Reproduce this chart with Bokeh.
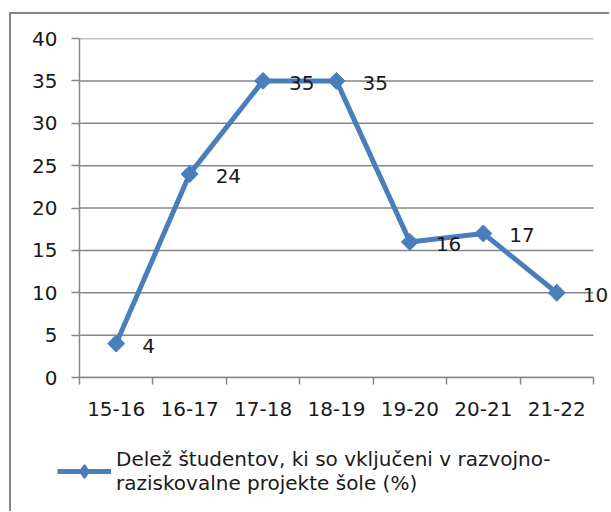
import math
from bokeh.plotting import figure
from bokeh.layouts import column
from bokeh.models import (ColumnDataSource, FixedTicker, Range1d, Legend, LegendItem, LabelSet)
from bokeh.core.properties import value
from bokeh.embed import file_html
from bokeh.resources import INLINE

categories = ["15-16", "16-17", "17-18", "18-19", "19-20", "20-21", "21-22"]
values = [4, 24, 35, 35, 16, 17, 10]
y_ticks = [0, 5, 10, 15, 20, 25, 30, 35, 40]
series_name = "Delež študentov, ki so vključeni v razvojno-\nraziskovalne projekte šole (%)"

FONT = "DejaVu Sans"
BLUE = "#4A7EBB"
GRAY = "#868686"
TXT = "#1a1a1a"

n = len(categories)
xs = [i + 0.5 for i in range(n)]
src = ColumnDataSource(dict(x=xs, y=values, lab=[str(v) for v in values]))

FW = 530
p = figure(output_backend="svg", toolbar_location=None,
           x_range=Range1d(0, n * FW / 512), y_range=Range1d(0, 40),
           min_border_left=68, min_border_top=24, min_border_right=0, min_border_bottom=61,
           frame_width=FW, frame_height=337)
p.margin = (12, 0, 0, 9)
p.styles = {"border-top": f"2px solid {GRAY}", "border-left": f"2px solid {GRAY}"}
p.outline_line_color = None
p.background_fill_color = "white"
p.border_fill_color = "white"

# x axis
p.xaxis.ticker = FixedTicker(ticks=xs, minor_ticks=list(range(n + 1)))
p.xaxis.bounds = (0, n)
p.xaxis.major_label_overrides = {x: c for x, c in zip(xs, categories)}
p.xaxis.major_tick_out = 0
p.xaxis.major_tick_in = 0
p.xaxis.minor_tick_out = 7
p.xaxis.minor_tick_in = 0
p.xaxis.minor_tick_line_color = GRAY
p.xaxis.minor_tick_line_width = 1.5
p.xaxis.axis_line_color = GRAY
p.xaxis.axis_line_width = 1.5
p.xaxis.major_label_standoff = 17
p.xaxis.major_label_text_font = FONT
p.xaxis.major_label_text_font_size = "20px"
p.xaxis.major_label_text_color = TXT
p.xgrid.visible = False

# y axis
p.yaxis.ticker = FixedTicker(ticks=y_ticks, minor_ticks=[])
p.yaxis.major_tick_out = 8
p.yaxis.major_tick_in = 0
p.yaxis.major_tick_line_color = GRAY
p.yaxis.major_tick_line_width = 1.5
p.yaxis.axis_line_color = GRAY
p.yaxis.axis_line_width = 1.5
p.yaxis.major_label_standoff = 14
p.yaxis.major_label_text_font = FONT
p.yaxis.major_label_text_font_size = "20px"
p.yaxis.major_label_text_color = TXT
p.ygrid.visible = False

# horizontal grid lines over the category span only
p.segment(x0=[0] * len(y_ticks), x1=[n] * len(y_ticks), y0=y_ticks, y1=y_ticks,
          line_color=GRAY, line_width=1.5)

ln = p.line("x", "y", source=src, line_color=BLUE, line_width=5)
mk = p.scatter("x", "y", source=src, marker="square", angle=math.pi / 4, size=12,
               fill_color=BLUE, line_color=BLUE)

labels = LabelSet(x="x", y="y", text="lab", source=src, x_offset=26, y_offset=-2,
                  text_baseline="middle", text_align="left",
                  text_font=value(FONT), text_font_size="20px", text_color=TXT)
p.add_layout(labels)

# legend strip below the chart (series renderers lie outside this strip's ranges)
p2 = figure(output_backend="svg", toolbar_location=None, x_axis_type=None, y_axis_type=None,
            x_range=Range1d(-100, -99), y_range=Range1d(-100, -99),
            frame_width=598, frame_height=75, min_border=0)
p2.margin = (0, 0, 0, 9)
p2.styles = {"border-left": f"2px solid {GRAY}"}
p2.outline_line_color = None
p2.grid.visible = False
p2.background_fill_color = "white"
p2.border_fill_color = "white"
lg_ln = p2.line("x", "y", source=src, line_color=BLUE, line_width=5)
lg_mk = p2.scatter("x", "y", source=src, marker="diamond", size=17,
                   fill_color=BLUE, line_color=BLUE, line_width=2)
legend = Legend(items=[LegendItem(label=series_name, renderers=[lg_ln, lg_mk])],
                location=(46, 16), orientation="vertical",
                border_line_color=None, background_fill_alpha=0,
                padding=0, margin=0, glyph_width=54, glyph_height=32,
                label_standoff=5, label_text_font=FONT, label_text_font_size="20px",
                label_text_color=TXT, label_text_line_height=1.3)
p2.add_layout(legend, "center")

layout = column(p, p2, spacing=0)
open("out.html", "w").write(file_html(layout, INLINE))
